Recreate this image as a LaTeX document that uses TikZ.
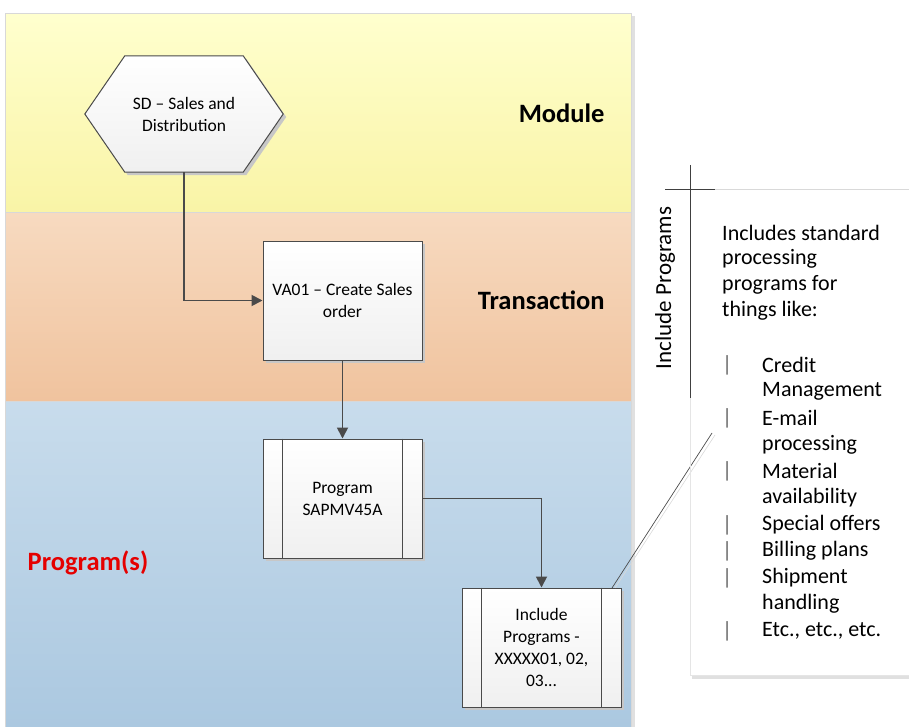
\documentclass[tikz,border=0pt]{standalone}
\usepackage{fontspec}
\setmainfont{Carlito}
\usetikzlibrary{arrows.meta,calc}
\definecolor{yelT}{HTML}{FFFFCE}
\definecolor{yelB}{HTML}{F9F4A6}
\definecolor{orT}{HTML}{F7DAC0}
\definecolor{orB}{HTML}{F0C39E}
\definecolor{blT}{HTML}{C8DCEC}
\definecolor{blB}{HTML}{ABC8E0}
\definecolor{edge}{HTML}{4A4A4A}
\definecolor{lanel}{HTML}{D8D8D8}
\tikzset{
  lane/.style={draw=lanel, line width=1pt},
  boxstyle/.style={draw=edge, line width=1pt, top color=white, bottom color=black!6, minimum width=159pt, minimum height=119pt, align=center, font=\fontsize{17.5}{22}\selectfont, inner sep=0pt},
  shadowbox/.style={fill=black!22},
  conn/.style={draw=edge, line width=1.8pt, -{Triangle[length=11pt,width=11pt]}},
  lanelabel/.style={font=\fontsize{26.5}{30}\selectfont\bfseries, anchor=east},
  anntext/.style={font=\fontsize{22}{26}\selectfont, anchor=west, inner sep=0pt},
  bar/.style={font=\fontsize{22}{26}\selectfont, anchor=west, inner sep=0pt, text=black!60},
}
\begin{document}
\begin{tikzpicture}[x=1pt,y=-1pt]
\useasboundingbox (0,0) rectangle (909,727);
% lanes
\fill[black!12] (632,16) rectangle (635,727);
\shade[top color=yelT, bottom color=yelB] (5,14) rectangle (631,213);
\shade[top color=orT, bottom color=orB] (5,213) rectangle (631,401);
\shade[top color=blT, bottom color=blB] (5,401) rectangle (631,727);
\draw[lane] (5,727) -- (5,14) -- (631,14) -- (631,727);
\draw[lane] (5,213) -- (631,213);
\draw[lane] (5,401) -- (631,401);
\node[lanelabel] (lm) at (608,113) {Module};
\node[lanelabel] (lt) at (608,300) {Transaction};
\node[lanelabel, text=red!90!black, anchor=center] (lp) at (88,563) {Program(s)};
% hexagon
\node (hex) [minimum width=198pt, minimum height=116pt, inner sep=0pt] at (184,114) {};
\fill[black!22] ([shift={(3,3)}]hex.west) -- ([shift={(43,3)}]hex.north west) -- ([shift={(-37,3)}]hex.north east) -- ([shift={(3,3)}]hex.east) -- ([shift={(-37,3)}]hex.south east) -- ([shift={(43,3)}]hex.south west) -- cycle;
\draw[draw=edge, line width=1pt, top color=white, bottom color=black!6] (hex.west) -- ([xshift=40]hex.north west) -- ([xshift=-40]hex.north east) -- (hex.east) -- ([xshift=-40]hex.south east) -- ([xshift=40]hex.south west) -- cycle;
\node[align=center, font=\fontsize{17.5}{22}\selectfont] (hext) at (hex.center) {SD -- Sales and\\Distribution};
% VA01
\fill[shadowbox] (266,244) rectangle (425,363);
\node[boxstyle] (va) at (342.5,300.5) {VA01 -- Create Sales\\order};
% Program
\fill[shadowbox] (266,442) rectangle (425,561);
\node[boxstyle] (prog) at (342.5,498.5) {Program\\SAPMV45A};
\draw[edge, line width=1pt] ([xshift=20]prog.north west) -- ([xshift=20]prog.south west);
\draw[edge, line width=1pt] ([xshift=-20]prog.north east) -- ([xshift=-20]prog.south east);
% Include
\fill[shadowbox] (465,591) rectangle (624,710);
\node[boxstyle] (inc) at (541.5,647.5) {Include\\Programs -\\XXXXX01, 02,\\03...};
\draw[edge, line width=1pt] ([xshift=20]inc.north west) -- ([xshift=20]inc.south west);
\draw[edge, line width=1pt] ([xshift=-20]inc.north east) -- ([xshift=-20]inc.south east);
% connectors
\draw[conn] (hex.south) |- (va.west);
\draw[conn] (va.south) -- (prog.north);
\draw[conn] (prog.east) -| (inc.north);
% annotation
\coordinate (annA) at (712,433);
\coordinate (incA) at (612,588);
\draw[black!70, line width=0.7pt] (incA) -- (annA);
\draw[black!15, line width=0.6pt] ($(incA)+(3,0)$) -- ($(annA)+(3,2)$);
\coordinate (brT) at (690,165);
\coordinate (brB) at (690,398);
\draw[black!75, line width=0.9pt] (brT) -- (brB);
\draw[black!75, line width=0.9pt] (665,189) -- (715,189);
\draw[black!15, line width=0.8pt] (715,189) -- (909,189);
\fill[black!12] (692,675) rectangle (909,679);
\draw[black!10, line width=0.6pt] (690,398) -- (690,675) -- (909,675);
\node[font=\fontsize{23}{26}\selectfont, rotate=90] (annlab) at (665,288) {Include Programs};
\node[anntext] (t1) at (722,233) {Includes standard};
\node[anntext] (t2) at (722,259) {processing};
\node[anntext] (t3) at (722,285) {programs for};
\node[anntext] (t4) at (722,311) {things like:};
\foreach \y/\txt in {365/Credit, 391/Management, 418/E-mail, 445/processing, 471/Material, 498/availability, 525/Special offers, 551/Billing plans, 578/Shipment, 604/handling, 631/{Etc., etc., etc.}}
  \node[anntext] at (762,\y) {\txt};
\foreach \y in {365,418,471,525,551,578,631}
  \node[bar] at (722,\y) {|};
\end{tikzpicture}
\end{document}
